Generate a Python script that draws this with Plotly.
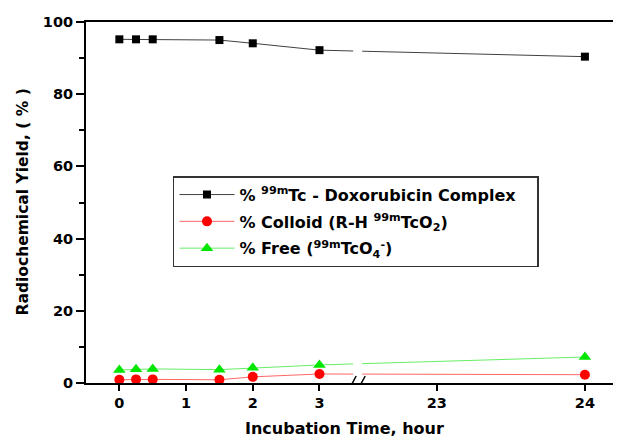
import plotly.graph_objects as go

# ---- data (hours, %) ----
hours = [0, 0.25, 0.5, 1.5, 2, 3, 24]
complex_pct = [95.2, 95.2, 95.2, 95.0, 94.1, 92.2, 90.4]
colloid_pct = [0.9, 1.0, 1.0, 0.9, 1.7, 2.5, 2.3]
free_pct = [3.6, 3.8, 3.9, 3.7, 4.2, 5.0, 7.2]
x_tick_hours = [0, 1, 2, 3, 23, 24]
y_tick_vals = [0, 20, 40, 60, 80, 100]

names = [
    "% <sup>99m</sup>Tc - Doxorubicin Complex&nbsp;&nbsp;&nbsp;",
    "% Colloid (R-H <sup>99m</sup>TcO<sub>2</sub>)",
    "% Free (<sup>99m</sup>TcO<sub>4</sub><sup>-</sup>)",
]

# ---- broken x axis: 0..3 h linear, then 23..24 h on a stretched segment ----
BREAK_AT = 3.565        # axis position of the break
SEG2_START = 4.758      # axis position of hour 23
SEG2_SCALE = 2.221      # axis units per hour after the break


def to_axis(h):
    return h if h <= 3.5 else SEG2_START + (h - 23) * SEG2_SCALE


xpos = [to_axis(h) for h in hours]
FONT = "'DejaVu Sans', Arial, sans-serif"

fig = go.Figure()
styles = [
    (complex_pct, "#000000", "#404040", "square", 8),
    (colloid_pct, "#ff0000", "#ff6666", "circle", 10),
    (free_pct, "#00e600", "#66ee66", "triangle-up", 11),
]
for i, ((vals, mcol, lcol, sym, size), nm) in enumerate(zip(styles, names)):
    fig.add_trace(go.Scatter(
        x=xpos, y=vals, mode="lines+markers", name=nm,
        legendgroup=f"g{i}",
        line=dict(color=lcol, width=1),
        marker=dict(color=mcol, symbol=sym, size=size, line=dict(width=0)),
    ))

# white gaps in the lines at the axis break
fig.add_shape(type="rect", xref="x", yref="y", xsizemode="pixel", ysizemode="pixel",
              xanchor=BREAK_AT, yanchor=92.0, x0=-4, x1=5, y0=-4, y1=4,
              fillcolor="white", line=dict(width=0), layer="above")
fig.add_shape(type="rect", xref="x", yref="y", xsizemode="pixel",
              xanchor=BREAK_AT, x0=-4, x1=5, y0=1.2, y1=7.5,
              fillcolor="white", line=dict(width=0), layer="above")
# "//" break marks on the x axis
for dx in (0, 9):
    fig.add_shape(type="line", xref="x", yref="y", xsizemode="pixel", ysizemode="pixel",
                  xanchor=BREAK_AT, yanchor=0, x0=-9 + dx, x1=-1 + dx, y0=-8, y1=7,
                  line=dict(color="black", width=1.5), layer="above")

# the page has an 8px body margin, so the figure is 8px smaller than the window
fig.update_layout(
    width=613, height=430,
    margin=dict(l=78, r=0, t=14, b=55),
    paper_bgcolor="white", plot_bgcolor="white",
    font=dict(family=FONT, size=16, color="black", weight="bold"),
    showlegend=True,
    legend=dict(
        x=0.1626, y=0.573, xanchor="left", yanchor="top",
        bordercolor="#333333", borderwidth=1.5, bgcolor="white",
        font=dict(family=FONT, size=16, color="black", weight="bold"),
        tracegroupgap=3, itemwidth=55,
    ),
    xaxis=dict(
        range=[-0.5, 7.52],
        tickvals=[to_axis(h) for h in x_tick_hours],
        ticktext=[str(h) for h in x_tick_hours],
        ticks="outside", ticklen=6, tickwidth=1.5, tickcolor="black",
        showline=True, linecolor="black", linewidth=2, mirror=True,
        showgrid=False, zeroline=False,
        tickfont=dict(family=FONT, size=14.5, weight="bold"),
    ),
    yaxis=dict(
        range=[0, 100], tickvals=y_tick_vals,
        ticks="outside", ticklen=8, tickwidth=1.5, tickcolor="black",
        minor=dict(dtick=10, ticks="outside", ticklen=5, tickwidth=1.5, tickcolor="black"),
        showline=True, linecolor="black", linewidth=2,
        showgrid=False, zeroline=False,
        tickfont=dict(family=FONT, size=14.5, weight="bold"),
    ),
    annotations=[
        dict(text="Incubation Time, hour", xref="paper", yref="paper", x=0.484, y=0,
             yshift=-45, xanchor="center", yanchor="middle", showarrow=False,
             font=dict(family=FONT, size=16, weight="bold")),
        dict(text="Radiochemical Yield, ( % )", xref="paper", yref="paper", x=0, y=0.5,
             xshift=-64, xanchor="center", yanchor="middle", textangle=-90, showarrow=False,
             font=dict(family=FONT, size=15.5, weight="bold")),
    ],
)

fig.write_html("out.html")
